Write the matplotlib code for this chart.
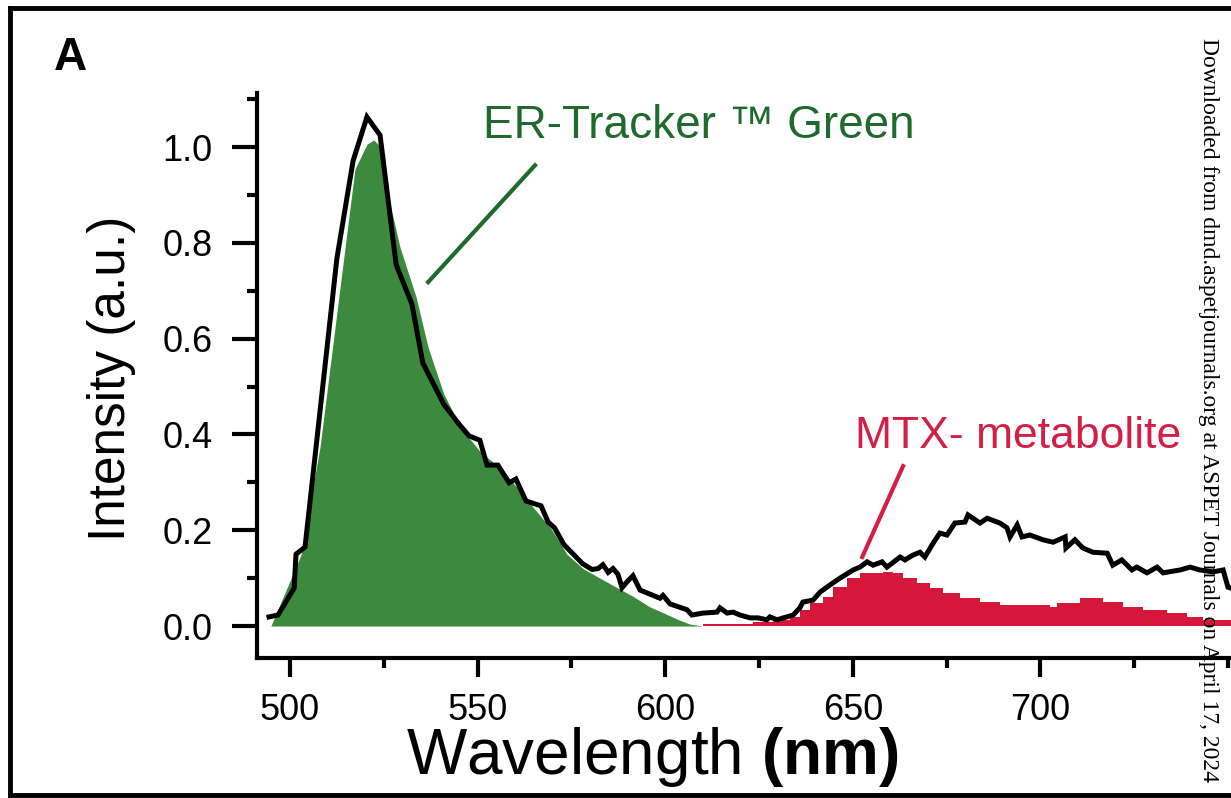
import numpy as np
import matplotlib.pyplot as plt
from matplotlib.lines import Line2D

plt.rcParams['font.family'] = ['Liberation Sans', 'DejaVu Sans']
plt.rcParams['mathtext.fontset'] = 'custom'
plt.rcParams['mathtext.rm'] = 'Liberation Sans'
plt.rcParams['mathtext.bf'] = 'Liberation Sans:bold'

# measured spectrum (black line)
total_nm = [494.4, 496.8, 501.1, 501.6, 504.0, 512.5, 516.8, 520.5, 524.0, 528.3,
            532.5, 535.4, 541.0, 545.0, 547.7, 550.6, 552.5, 555.4, 558.4, 560.2,
            562.9, 566.9, 568.8, 570.5, 573.0, 575.5, 578.0, 580.5, 582.1, 583.4,
            584.8, 586.1, 587.4, 588.5, 589.8, 591.4, 593.3, 598.6, 599.4, 601.3,
            605.8, 607.1, 610.1, 613.8, 614.6, 616.5, 618.1, 619.9, 622.6, 624.7,
            627.1, 627.9, 629.8, 634.1, 635.9, 636.7, 639.4, 641.3, 644.7, 646.6,
            650.1, 651.9, 653.8, 655.4, 657.8, 659.1, 662.6, 663.9, 666.0, 667.9,
            669.2, 671.4, 673.2, 675.1, 677.2, 679.9, 680.7, 683.9, 685.8, 689.2,
            691.1, 691.9, 693.8, 695.1, 697.2, 700.7, 703.4, 706.6, 706.8, 709.2,
            711.3, 714.0, 717.8, 719.3, 721.7, 724.4, 725.7, 728.4, 731.1, 732.7,
            737.2, 739.9, 742.5, 746.0, 748.7, 750.0, 750.8]
total_int = [0.019, 0.023, 0.079, 0.150, 0.165, 0.768, 0.971, 1.063, 1.025, 0.754,
             0.672, 0.549, 0.463, 0.422, 0.397, 0.388, 0.336, 0.336, 0.299, 0.307,
             0.261, 0.251, 0.217, 0.205, 0.170, 0.150, 0.130, 0.118, 0.120, 0.128,
             0.112, 0.120, 0.108, 0.080, 0.092, 0.105, 0.075, 0.058, 0.064, 0.046,
             0.034, 0.023, 0.027, 0.029, 0.038, 0.027, 0.029, 0.023, 0.017, 0.017,
             0.013, 0.019, 0.013, 0.023, 0.038, 0.050, 0.054, 0.071, 0.090, 0.100,
             0.117, 0.123, 0.134, 0.127, 0.134, 0.123, 0.144, 0.138, 0.148, 0.154,
             0.144, 0.173, 0.194, 0.190, 0.215, 0.217, 0.232, 0.215, 0.225, 0.215,
             0.205, 0.186, 0.211, 0.186, 0.190, 0.180, 0.175, 0.186, 0.163, 0.180,
             0.163, 0.154, 0.152, 0.127, 0.138, 0.117, 0.123, 0.111, 0.123, 0.111,
             0.117, 0.123, 0.117, 0.113, 0.117, 0.081, 0.079]

# ER-Tracker Green component (green fill)
green_nm = [494.9, 503.0, 508.0, 517.3, 520.5, 522.3, 524.3, 526.9, 529.3, 533.6,
            536.8, 541.0, 545.8, 550.6, 556.2, 560.2, 565.0, 569.6, 573.8, 578.1,
            582.6, 587.2, 591.4, 595.9, 600.5, 603.9, 606.6, 610.1]
green_int = [0.0, 0.150, 0.374, 0.954, 1.006, 1.015, 1.000, 0.873, 0.791, 0.687,
             0.582, 0.484, 0.411, 0.365, 0.328, 0.292, 0.246, 0.203, 0.150, 0.120,
             0.100, 0.080, 0.062, 0.040, 0.024, 0.012, 0.004, 0.0]

# MTX metabolite component (red fill)
red_nm = [610.1, 619.1, 623.4, 628.7, 633.3, 635.9, 638.6, 642.1, 644.7, 648.5,
          651.9, 658.0, 660.7, 663.4, 667.1, 670.6, 674.0, 678.6, 683.9, 689.2,
          702.6, 704.4, 710.6, 714.0, 716.7, 722.0, 727.3, 733.7, 739.1, 743.3,
          750.8]
red_int = [0.004, 0.004, 0.008, 0.013, 0.019, 0.033, 0.048, 0.061, 0.081, 0.100,
           0.111, 0.113, 0.111, 0.100, 0.090, 0.079, 0.069, 0.058, 0.050, 0.044,
           0.040, 0.048, 0.058, 0.058, 0.050, 0.040, 0.033, 0.027, 0.019, 0.013,
           0.013]

green_fill = '#3b8a3e'
red_fill = '#d5173b'
green_text = '#1f6a2c'
red_text = '#d31f45'

fig = plt.figure(figsize=(12.31, 7.98), dpi=100)
ax = fig.add_axes([257 / 1231, 1 - 658 / 798, 1 - 257 / 1231, (658 - 93) / 798])

ax.fill_between(green_nm, 0, green_int, color=green_fill, lw=0)
ax.fill_between(red_nm, 0, red_int, color=red_fill, lw=0, step='post')
ax.plot(total_nm, total_int, color='black', lw=3.6, solid_joinstyle='miter')

ax.set_xlim(491.2, 750.8)
ax.set_ylim(-0.0668, 1.113)

for s in ['top', 'right']:
    ax.spines[s].set_visible(False)
for s in ['left', 'bottom']:
    ax.spines[s].set_linewidth(3)

ax.set_xticks([500, 550, 600, 650, 700])
ax.set_xticks([525, 575, 625, 675, 725, 750], minor=True)
ax.set_yticks([0.0, 0.2, 0.4, 0.6, 0.8, 1.0])
ax.set_yticks([0.1, 0.3, 0.5, 0.7, 0.9, 1.1], minor=True)
ax.set_yticklabels(['0.0', '0.2', '0.4', '0.6', '0.8', '1.0'])
ax.tick_params(axis='both', which='major', width=3, length=14, labelsize=26)
ax.tick_params(axis='both', which='minor', width=3, length=7)
ax.tick_params(axis='y', which='major', length=18, pad=14)
ax.tick_params(axis='x', which='major', pad=11)

fig.text(652 / 1231, 1 - 757 / 798, r'Wavelength $\mathbf{(nm)}$', fontsize=46,
         ha='center', va='center')
fig.text(112 / 1231, 1 - 378 / 798, 'Intensity (a.u.)', fontsize=37,
         rotation=90, ha='center', va='center')
fig.text(70 / 1231, 1 - 58 / 798, 'A', fontsize=33, fontweight='bold',
         ha='center', va='center')

ax.text(551.4, 1.019, 'ER-Tracker \u2122 Green', color=green_text, fontsize=33,
        va='baseline', ha='left')
ax.plot([536.8, 565.3], [0.718, 0.962], color=green_text, lw=3)
ax.text(650.6, 0.372, 'MTX- metabolite', color=red_text, fontsize=32,
        va='baseline', ha='left')
ax.plot([663.4, 652.5], [0.334, 0.144], color=red_text, lw=3)

# scanned frame
fig.add_artist(Line2D([10 / 1231, 1], [1 - 8 / 798, 1 - 8 / 798], color='black', lw=3.5))
fig.add_artist(Line2D([10 / 1231, 10 / 1231], [1 - 8 / 798, 1 - 795 / 798], color='black', lw=3.5))
fig.add_artist(Line2D([10 / 1231, 1], [1 - 795 / 798, 1 - 795 / 798], color='black', lw=3.5))

fig.text(1209 / 1231, 1 - 38 / 798,
         'Downloaded from dmd.aspetjournals.org at ASPET Journals on April 17, 2024',
         family='Liberation Serif', fontsize=17, rotation=-90, ha='center', va='top')

fig.savefig('out.png', dpi=100)
